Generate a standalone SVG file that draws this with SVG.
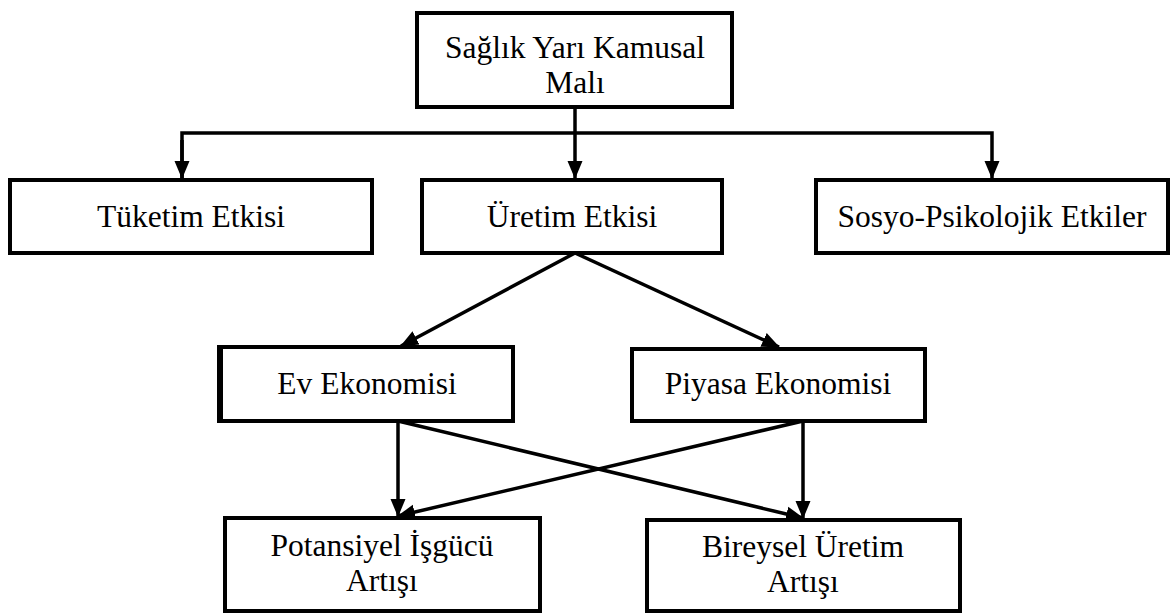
<svg xmlns="http://www.w3.org/2000/svg" width="1174" height="613" viewBox="0 0 1174 613">
<style>
.box{fill:#fff;stroke:#000;stroke-width:4}
.t{font-family:'Liberation Serif','Times New Roman','DejaVu Serif',serif;font-size:31.5px;fill:#000;text-anchor:middle}
.c{fill:none;stroke:#000;stroke-width:3.5}
</style>
<defs>
<marker id="ah" markerUnits="userSpaceOnUse" markerWidth="18" markerHeight="18" viewBox="0 0 18 18" refX="17" refY="9" orient="auto">
<path d="M0,1.5 L18,9 L0,16.5 Z" fill="#000"/>
</marker>
</defs>
<rect width="1174" height="613" fill="#fff"/>
<g id="connectors">
<line class="c" x1="575" y1="107" x2="575" y2="178" marker-end="url(#ah)"/>
<polyline class="c" points="182,178 182,133 992,133 992,178" marker-end="url(#ah)"/>
<line class="c" x1="182" y1="140" x2="182" y2="178" marker-end="url(#ah)"/>
<line class="c" x1="575" y1="253" x2="401" y2="346" marker-end="url(#ah)"/>
<line class="c" x1="575" y1="253" x2="779" y2="347" marker-end="url(#ah)"/>
<line class="c" x1="398" y1="421" x2="398" y2="516" marker-end="url(#ah)"/>
<line class="c" x1="398" y1="421" x2="803" y2="518" marker-end="url(#ah)"/>
<line class="c" x1="803" y1="421" x2="803" y2="518" marker-end="url(#ah)"/>
<line class="c" x1="803" y1="421" x2="398" y2="516" marker-end="url(#ah)"/>
</g>
<g id="n-top">
<rect class="box" x="417" y="13" width="315" height="94"/>
<text class="t" x="575" y="58">Sağlık Yarı Kamusal</text>
<text class="t" x="575" y="93">Malı</text>
</g>
<g id="n-tuketim">
<rect class="box" x="10" y="180" width="362" height="73"/>
<text class="t" x="191" y="227">Tüketim Etkisi</text>
</g>
<g id="n-uretim">
<rect class="box" x="422" y="180" width="300" height="73"/>
<text class="t" x="572" y="227">Üretim Etkisi</text>
</g>
<g id="n-sosyo">
<rect class="box" x="816" y="180" width="352" height="73"/>
<text class="t" x="992" y="227">Sosyo-Psikolojik Etkiler</text>
</g>
<g id="n-ev">
<rect class="box" x="219" y="347" width="294" height="74"/>
<line x1="222" y1="347" x2="222" y2="421" stroke="#000" stroke-width="2"/>
<text class="t" x="367" y="394">Ev Ekonomisi</text>
</g>
<g id="n-piyasa">
<rect class="box" x="632" y="349" width="293" height="72"/>
<text class="t" x="778" y="394">Piyasa Ekonomisi</text>
</g>
<g id="n-potansiyel">
<rect class="box" x="225" y="518" width="315" height="93"/>
<text class="t" x="382" y="556">Potansiyel İşgücü</text>
<text class="t" x="382" y="591">Artışı</text>
</g>
<g id="n-bireysel">
<rect class="box" x="647" y="520" width="313" height="91"/>
<text class="t" x="803" y="557">Bireysel Üretim</text>
<text class="t" x="803" y="592">Artışı</text>
</g>
</svg>
